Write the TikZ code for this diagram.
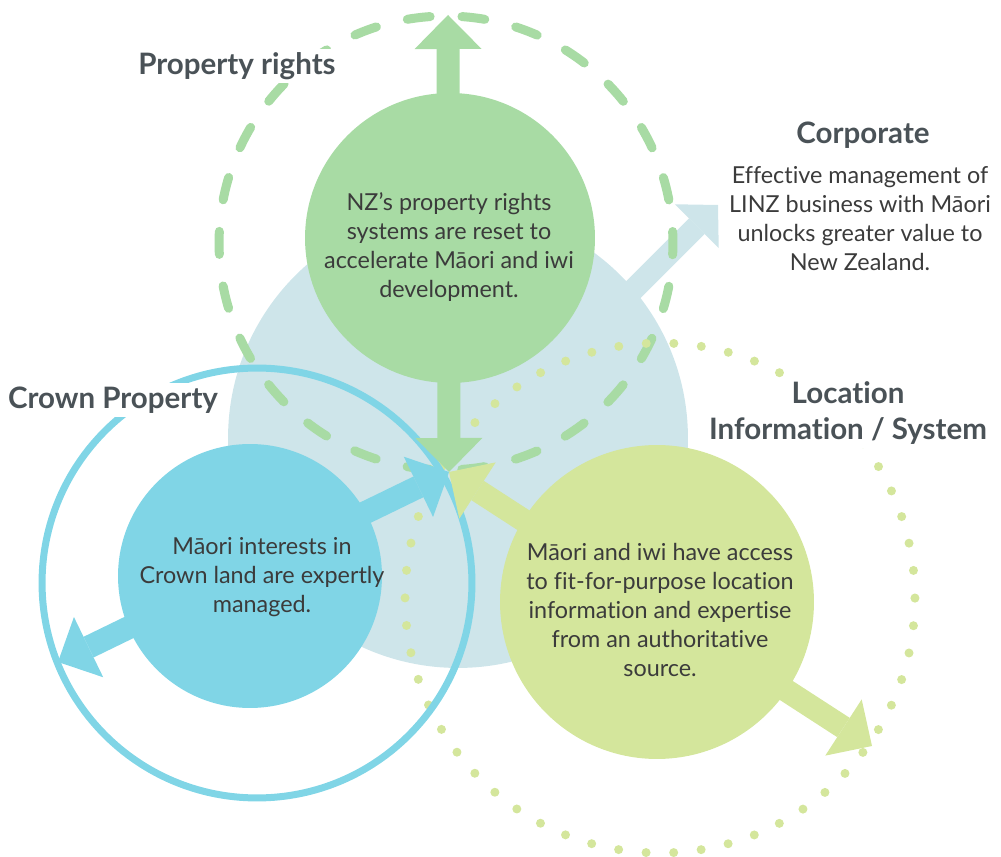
\documentclass[tikz,border=0pt]{standalone}
\usepackage{fontspec}
\setmainfont{Lato}[Ligatures=NoCommon]
\usetikzlibrary{arrows.meta,positioning}

\definecolor{hubblue}{HTML}{CEE5EA}
\definecolor{rightsgreen}{HTML}{A8DBA4}
\definecolor{crownblue}{HTML}{80D5E6}
\definecolor{locgreen}{HTML}{D4E69C}
\definecolor{headgrey}{HTML}{4A5257}
\definecolor{bodygrey}{HTML}{3B3B3B}

\tikzstyle{disc} = [circle, inner sep=0pt]
\tikzstyle{body} = [text=bodygrey, align=center, inner sep=1pt,
    font=\fontsize{13.3}{16.5}\selectfont]
\tikzstyle{heading} = [text=headgrey, align=center, fill=white, inner sep=2pt,
    font=\bfseries\fontsize{16.8}{20.4}\selectfont]
\tikzstyle{link} = [line width=.46cm,
    >={Triangle[length=.68cm, width=1.34cm, line width=0pt]}]
\tikzstyle{corplink} = [draw=hubblue, line width=.44cm,
    -{Triangle[length=.6cm, width=1.24cm, line width=0pt]}]

\begin{document}
\begin{tikzpicture}[x=0.02cm, y=-0.02cm]
  \useasboundingbox (0,0) rectangle (1001,857);
  % circles
  \node [disc, fill=hubblue, minimum size=9.2cm] (hub) at (458,438) {};
  \coordinate (corptail) at (560,363);
  \coordinate (corptip) at (718,205);
  \draw [corplink] (corptail) -- (corptip);
  \node [disc, draw=rightsgreen, line width=.18cm, line cap=round,
    dash pattern=on .46cm off .6371cm, dash phase=.23cm,
    minimum size=9.08cm] (rightsring) at (446,243) {};
  \node [disc, draw=locgreen, line width=.18cm, line cap=round,
    dash pattern=on 0pt off .5525cm, minimum size=10.2cm] (locring) at (660,598) {};
  \node [disc, draw=crownblue, line width=.14cm, minimum size=8.6cm] (crownring) at (257,583) {};
  \node [disc, fill=rightsgreen, minimum size=5.8cm] (rights) at (450,238) {};
  \node [disc, fill=crownblue, minimum size=5.28cm] (crown) at (250,576) {};
  \node [disc, fill=locgreen, minimum size=6.28cm] (loc) at (657,602) {};
  % edges
  \coordinate (meet) at (449,472);
  \coordinate (rightstip) at (448,15);
  \coordinate (crowntip) at (58,662);
  \coordinate (loctip) at (872,746);
  \draw [link, rightsgreen, <->] (meet) -- (rightstip);
  \draw [link, crownblue, <->] (meet) -- (crowntip);
  \draw [link, locgreen, <->] (meet) -- (loctip);
  % texts
  \node [body] (rightstext) at (449,247) {NZ’s property rights\\systems are reset to\\accelerate Māori and iwi\\development.};
  \node [body] (crowntext) at (262,577) {Māori interests in\\Crown land are expertly\\managed.};
  \node [body] (loctext) at (660,610) {Māori and iwi have access\\to fit-for-purpose location\\information and expertise\\from an authoritative\\source.};
  \node [body] (corptext) at (860,219) {Effective management of\\LINZ business with Māori\\unlocks greater value to\\New Zealand.};
  \node [heading] (rightslabel) at (237,66) {Property rights};
  \node [heading] (corplabel) at (863,135) {Corporate};
  \node [heading] (crownlabel) at (113,400) {Crown Property};
  \node [heading] (loclabel) at (848,413) {Location\\Information / System};
\end{tikzpicture}
\end{document}
